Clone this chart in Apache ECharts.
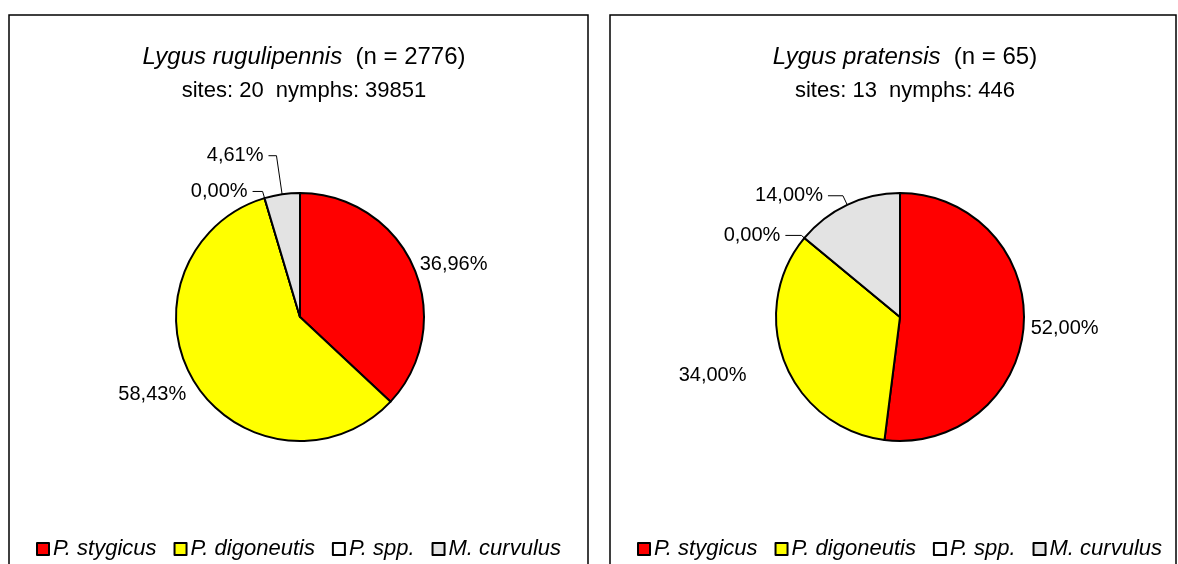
<!DOCTYPE html>
<html>
<head>
<meta charset="utf-8">
<script src="https://cdn.jsdelivr.net/npm/echarts@6/dist/echarts.min.js"></script>
<style>
  html, body { margin: 0; padding: 0; background: #fff; }
  #chart { width: 1178px; height: 564px; }
</style>
</head>
<body>
<div id="chart"></div>
<script>
const species = ['P. stygicus', 'P. digoneutis', 'P. spp.', 'M. curvulus'];
const speciesColors = ['#ff0000', '#ffff00', '#ffffff', '#e3e3e3'];

const rugulipennisShares = [36.96, 58.43, 0.00, 4.61];
const pratensisShares = [52.00, 34.00, 0.00, 14.00];

const rugulipennisInfo = { name: 'Lygus rugulipennis', n: 2776, sites: 20, nymphs: 39851 };
const pratensisInfo = { name: 'Lygus pratensis', n: 65, sites: 13, nymphs: 446 };

const font = 'Liberation Sans, Arial, sans-serif';

// leader line look per slice (show, radial length, horizontal length), plus a small vertical nudge
const leftLines = [[false, 1, 0, -3], [false, 4, 0, 10], [true, 7, 10, 0], [true, 39, 8, 0]];
const rightLines = [[false, 2, 0, 4], [false, 25, 10, 4], [true, 4, 16, 2], [true, 10, 15, 2]];

const buildData = (shares, lines) => shares.map((v, i) => ({
    name: species[i],
    value: v,
    itemStyle: { color: speciesColors[i] },
    labelLine: {
        show: lines[i][0],
        length: lines[i][1],
        length2: lines[i][2],
        lineStyle: { color: '#000', width: 1 }
    }
}));

const pctLabel = (p) => p.value.toFixed(2).replace('.', ',') + '%';

const pieSeries = (shares, lines, cx) => ({
    type: 'pie',
    center: [cx, 317],
    radius: 124,
    startAngle: 90,
    clockwise: true,
    avoidLabelOverlap: false,
    animation: false,
    itemStyle: { borderColor: '#000', borderWidth: 2 },
    label: {
        show: true,
        position: 'outside',
        formatter: pctLabel,
        fontFamily: font,
        fontSize: 20,
        color: '#000'
    },
    labelLayout: (p) => (lines[p.dataIndex][0] ? {} : { dy: lines[p.dataIndex][3] }),
    emphasis: { disabled: true },
    data: buildData(shares, lines)
});

const titleFor = (info, cx) => ({
    left: cx,
    top: 40,
    textAlign: 'center',
    text: '{i|' + info.name + '}  (n = ' + info.n + ')',
    subtext: 'sites: ' + info.sites + '  nymphs: ' + info.nymphs,
    itemGap: 11,
    textStyle: {
        fontFamily: font, fontSize: 24, fontWeight: 'normal', color: '#000',
        rich: { i: { fontFamily: font, fontSize: 24, fontStyle: 'italic', color: '#000' } }
    },
    subtextStyle: { fontFamily: font, fontSize: 22, color: '#000' }
});

const legendFor = (x) => ({
    left: x,
    top: 533,
    orient: 'horizontal',
    data: species,
    icon: 'rect',
    itemWidth: 12,
    itemHeight: 12,
    itemGap: 17,
    selectedMode: false,
    itemStyle: { borderColor: '#000', borderWidth: 2 },
    textStyle: { fontFamily: font, fontSize: 22, fontStyle: 'italic', color: '#000', padding: [0, 0, 0, -1] }
});

const chart = echarts.init(document.getElementById('chart'));
chart.setOption({
    backgroundColor: '#fff',
    title: [titleFor(rugulipennisInfo, 299), titleFor(pratensisInfo, 900)],
    legend: [legendFor(31), legendFor(632)],
    graphic: [
        { type: 'rect', shape: { x: 9, y: 15, width: 579, height: 600 }, style: { fill: 'none', stroke: '#000', lineWidth: 1.5 } },
        { type: 'rect', shape: { x: 610, y: 15, width: 566, height: 600 }, style: { fill: 'none', stroke: '#000', lineWidth: 1.5 } }
    ],
    series: [
        pieSeries(rugulipennisShares, leftLines, 300),
        pieSeries(pratensisShares, rightLines, 900)
    ]
});
</script>
</body>
</html>
